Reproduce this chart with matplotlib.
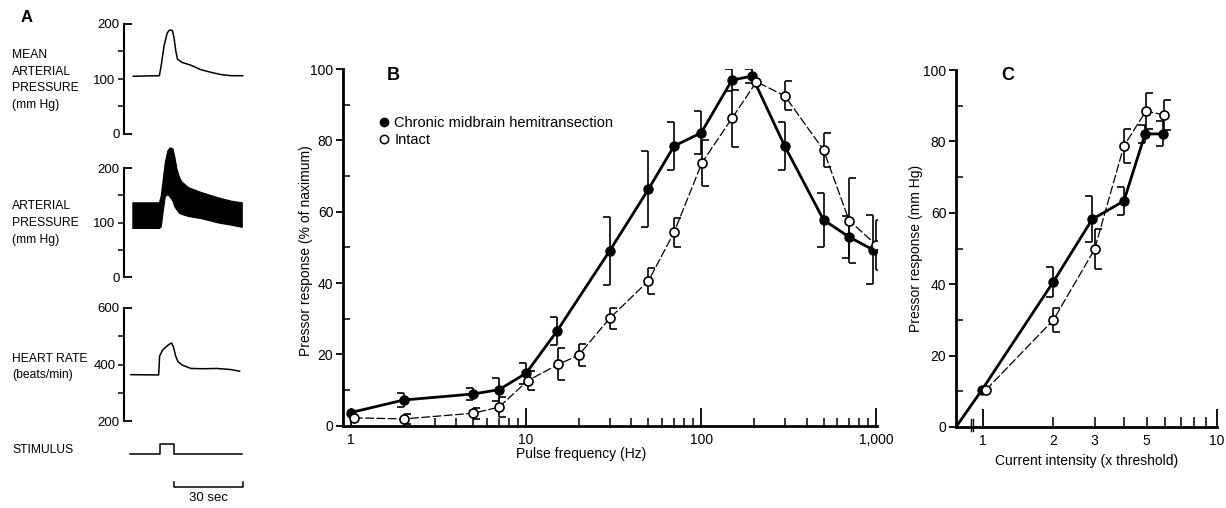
import matplotlib
matplotlib.use("Agg")
import matplotlib.pyplot as plt
from matplotlib.lines import Line2D
from matplotlib.ticker import FixedLocator, FixedFormatter, NullFormatter

plt.rcParams["font.family"] = ["Liberation Sans", "DejaVu Sans"]
plt.rcParams["font.size"] = 10

W, H = 1226, 508

# ---- Panel A: recordings (time in sec) ----
map_t = [0.0, 11.2, 12.0, 13.2, 14.6, 15.6, 16.8, 17.5, 18.3, 19.0, 21.0, 24.8, 29.0, 33.5, 37.8, 42.0, 47.0]
map_v = [105, 106, 125, 160, 184, 189, 188, 175, 150, 136, 130, 125, 117, 112, 108, 106, 106]

ap_t = [-0.4, 11.0, 11.8, 12.6, 13.5, 14.6, 15.6, 16.8, 17.6, 18.5, 19.6, 20.5, 23.5, 29.0, 36.5, 42.0, 46.6]
ap_hi = [137, 137, 150, 178, 210, 232, 238, 236, 222, 200, 184, 176, 165, 156, 146, 140, 137]
ap_lo = [90, 90, 93, 120, 148, 152, 148, 140, 130, 124, 118, 116, 112, 108, 100, 96, 92]

hr_t = [-1.0, 10.9, 11.3, 12.5, 14.0, 15.5, 16.5, 17.3, 18.2, 19.2, 21.0, 24.8, 30.0, 36.0, 42.0, 45.7]
hr_v = [364, 363, 430, 450, 462, 472, 476, 460, 430, 410, 398, 386, 385, 386, 382, 376]

stim_t = [-1.6, 11.4, 17.3, 46.8]
stim_v = [0, 1, 0, 0]
scale_sec = 30

# ---- Panel B: pulse frequency ----
b_chronic_f = [1, 2, 5, 7, 10, 15, 30, 50, 70, 100, 150, 195, 300, 500, 700, 960]
b_chronic_v = [3.7, 7.2, 8.9, 10.1, 14.7, 26.5, 49.0, 66.3, 78.4, 82.1, 96.9, 98.0, 78.4, 57.7, 52.9, 49.3]
b_chronic_e = [0, 1.9, 1.6, 3.2, 3.0, 4.0, 9.6, 10.7, 6.8, 6.0, 3.0, 2.0, 6.8, 7.6, 6.0, 9.7]

b_intact_f = [1.04, 2, 5, 7, 10.2, 15.3, 20, 30, 50, 70, 101, 150, 207, 300, 500, 700, 1000]
b_intact_v = [2.2, 1.9, 3.5, 5.2, 12.6, 17.2, 19.8, 30.1, 40.6, 54.2, 73.7, 86.2, 96.4, 92.5, 77.3, 57.5, 50.7]
b_intact_e = [0, 1.5, 1.5, 2.8, 2.7, 4.5, 3.1, 3.0, 3.7, 4.0, 6.5, 8.0, 0, 4.0, 4.7, 12.0, 7.0]

# ---- Panel C: current intensity ----
C_XMIN = 0.767
c_chronic_x = [0.99, 2, 2.93, 4.0, 4.93, 5.9]
c_chronic_v = [10.4, 40.7, 58.2, 63.3, 82.1, 82.1]
c_chronic_e = [0, 4.2, 6.4, 4.0, 2.5, 3.5]

c_intact_x = [1.03, 2, 3, 4.0, 4.97, 5.95]
c_intact_v = [10.4, 30.0, 49.8, 78.7, 88.5, 87.4]
c_intact_e = [0, 3.3, 5.6, 4.8, 5.0, 4.2]


def rect(x0, y0, x1, y1):
    # pixel box (top-left origin) -> figure fraction
    return [x0 / W, 1 - y1 / H, (x1 - x0) / W, (y1 - y0) / H]


def ftext(x, y, s, **kw):
    fig.text(x / W, 1 - y / H, s, **kw)


def brackets(ax, xs, ys, es, caps):
    for x, y, e in zip(xs, ys, es):
        if e <= 0:
            continue
        ax.vlines(x, y - e, y + e, color="k", lw=1.2, zorder=2)
        ax.plot([x, x], [y - e, y + e], ls="none", marker=caps, ms=5,
                mew=1.2, color="k", zorder=2)


fig = plt.figure(figsize=(W / 100, H / 100), dpi=100)

# ---------------- Panel A ----------------
def trace_axis(box, lo, hi, minors):
    ax = fig.add_axes(box)
    ax.set_xlim(-4, 48)
    ax.set_ylim(lo, hi)
    for s in ("top", "right", "bottom"):
        ax.spines[s].set_visible(False)
    ax.spines["left"].set_linewidth(1.5)
    ax.set_xticks([])
    ax.yaxis.set_major_locator(FixedLocator([lo, hi]))
    ax.yaxis.set_minor_locator(FixedLocator(minors))
    ax.yaxis.set_minor_formatter(FixedFormatter(
        ["" if i != 1 else str(minors[1]) for i in range(len(minors))]))
    ax.tick_params(axis="y", which="major", direction="in", length=6, width=1.3,
                   labelsize=9.5, pad=3)
    ax.tick_params(axis="y", which="minor", direction="out", length=4, width=1.1,
                   labelsize=9.5, pad=2)
    return ax


ax1 = trace_axis(rect(124, 24, 245, 134), 0, 200, [50, 100, 150])
ax1.plot(map_t, map_v, color="k", lw=1.1)

ax2 = trace_axis(rect(124, 168, 245, 277), 0, 200, [50, 100, 150])
ax2.fill_between(ap_t, ap_lo, ap_hi, color="k", lw=0.8, clip_on=False)

ax3 = trace_axis(rect(124, 308, 245, 421), 200, 600, [300, 400, 500])
ax3.plot(hr_t, hr_v, color="k", lw=1.1)

ax4 = fig.add_axes(rect(124, 435, 245, 495))
ax4.set_xlim(-4, 48)
ax4.set_ylim(-4.1, 1.9)
ax4.axis("off")
ax4.plot(stim_t, stim_v, color="k", lw=1.1, drawstyle="steps-post")
t0 = stim_t[2]
ax4.plot([t0, t0, t0 + scale_sec, t0 + scale_sec], [-2.8, -3.3, -3.3, -2.8],
         color="k", lw=1.1, clip_on=False)
ax4.text(t0 + scale_sec / 2, -4.4, f"{scale_sec} sec", ha="center", va="center",
         fontsize=9.5)

ftext(27, 17, "A", fontsize=12, fontweight="bold", ha="center", va="center")
lab = dict(fontsize=8.7, ha="left", va="center", linespacing=1.55)
ftext(12, 80, "MEAN\nARTERIAL\nPRESSURE\n(mm Hg)", **lab)
ftext(12, 223, "ARTERIAL\nPRESSURE\n(mm Hg)", **lab)
ftext(12, 367, "HEART RATE\n(beats/min)", **lab)
ftext(12, 450, "STIMULUS", **lab)

# ---------------- Panel B ----------------
axb = fig.add_axes(rect(343, 69, 877, 425.7))
axb.set_xscale("log")
axb.set_xlim(0.9, 1010)
axb.set_ylim(0, 100)
for s in ("top", "right"):
    axb.spines[s].set_visible(False)
for s in ("left", "bottom"):
    axb.spines[s].set_linewidth(2.0)

axb.plot(b_chronic_f, b_chronic_v, color="k", lw=2.0, zorder=3)
axb.plot(b_intact_f, b_intact_v, color="k", lw=0.9, dashes=(7, 2), zorder=3)
brackets(axb, b_chronic_f, b_chronic_v, b_chronic_e, 0)
brackets(axb, b_intact_f, b_intact_v, b_intact_e, 1)
axb.plot(b_chronic_f, b_chronic_v, ls="none", marker="o", ms=6.5, mfc="k",
         mec="k", zorder=4)
axb.plot(b_intact_f, b_intact_v, ls="none", marker="o", ms=6.5, mfc="white",
         mec="k", mew=1.2, zorder=4)

axb.xaxis.set_major_locator(FixedLocator([1, 10, 100, 1000]))
axb.xaxis.set_major_formatter(FixedFormatter(["1", "10", "100", "1,000"]))
axb.xaxis.set_minor_locator(FixedLocator(
    [m * d for d in (1, 10, 100) for m in range(2, 10)]))
axb.xaxis.set_minor_formatter(NullFormatter())
axb.tick_params(axis="x", which="major", direction="in", length=13, width=1.3,
                labelsize=10, pad=5)
axb.tick_params(axis="x", which="minor", direction="in", length=6, width=1.1)
axb.yaxis.set_major_locator(FixedLocator([0, 20, 40, 60, 80, 100]))
axb.yaxis.set_minor_locator(FixedLocator([10, 30, 50, 70, 90]))
axb.tick_params(axis="y", which="major", direction="out", length=5, width=1.3,
                labelsize=10, pad=2)
axb.tick_params(axis="y", which="minor", direction="in", length=5, width=1.1)
axb.set_xlabel("Pulse frequency (Hz)", fontsize=10)
axb.xaxis.set_label_coords(0.446, -0.06)
axb.set_ylabel("Pressor response (% of naximum)", fontsize=10)
axb.yaxis.set_label_coords(-0.057, 0.49)

handles = [
    Line2D([], [], ls="none", marker="o", ms=6, mfc="k", mec="k"),
    Line2D([], [], ls="none", marker="o", ms=6, mfc="white", mec="k", mew=1.1),
]
fig.legend(handles, ["Chronic midbrain hemitransection", "Intact"],
           loc="upper left", bbox_to_anchor=(374 / W, 1 - 110 / H),
           frameon=False, fontsize=10.5, handlelength=0.6, handletextpad=0.4,
           labelspacing=0.25, borderaxespad=0)
ftext(393, 75, "B", fontsize=13, fontweight="bold", ha="center", va="center")

# ---------------- Panel C ----------------
axc = fig.add_axes(rect(956, 70, 1217, 427))
axc.set_xscale("log")
axc.set_xlim(C_XMIN, 10)
axc.set_ylim(0, 100)
for s in ("top", "right"):
    axc.spines[s].set_visible(False)
for s in ("left", "bottom"):
    axc.spines[s].set_linewidth(2.0)

axc.plot([C_XMIN] + c_chronic_x, [0] + c_chronic_v, color="k", lw=2.0,
         zorder=3, clip_on=False)
axc.plot(c_intact_x, c_intact_v, color="k", lw=0.9, dashes=(7, 2), zorder=3)
brackets(axc, c_chronic_x, c_chronic_v, c_chronic_e, 0)
brackets(axc, c_intact_x, c_intact_v, c_intact_e, 1)
axc.plot(c_chronic_x, c_chronic_v, ls="none", marker="o", ms=6.5, mfc="k",
         mec="k", zorder=4)
axc.plot(c_intact_x, c_intact_v, ls="none", marker="o", ms=6.5, mfc="white",
         mec="k", mew=1.2, zorder=4)

# axis break marks
for xb in (0.885, 0.91):
    axc.plot([xb, xb], [-1.2, 2.2], color="k", lw=1.0, clip_on=False, zorder=5)

axc.xaxis.set_major_locator(FixedLocator([1, 10]))
axc.xaxis.set_major_formatter(FixedFormatter(["1", "10"]))
axc.xaxis.set_minor_locator(FixedLocator(list(range(2, 10))))
axc.xaxis.set_minor_formatter(FixedFormatter(
    ["2", "3", "", "5", "", "", "", ""]))
axc.tick_params(axis="x", which="major", direction="in", length=13, width=1.3,
                labelsize=10, pad=5)
axc.tick_params(axis="x", which="minor", direction="in", length=7, width=1.1,
                labelsize=10, pad=5)
axc.yaxis.set_major_locator(FixedLocator([0, 20, 40, 60, 80, 100]))
axc.yaxis.set_minor_locator(FixedLocator([10, 30, 50, 70, 90]))
axc.tick_params(axis="y", which="major", direction="out", length=5, width=1.3,
                labelsize=10, pad=2)
axc.tick_params(axis="y", which="minor", direction="in", length=5, width=1.1)
axc.set_xlabel("Current intensity (x threshold)", fontsize=10)
axc.xaxis.set_label_coords(0.5, -0.075)
axc.set_ylabel("Pressor response (mm Hg)", fontsize=10)
axc.yaxis.set_label_coords(-0.125, 0.5)
ftext(1008, 75, "C", fontsize=13, fontweight="bold", ha="center", va="center")

fig.savefig("out.png", dpi=100)
